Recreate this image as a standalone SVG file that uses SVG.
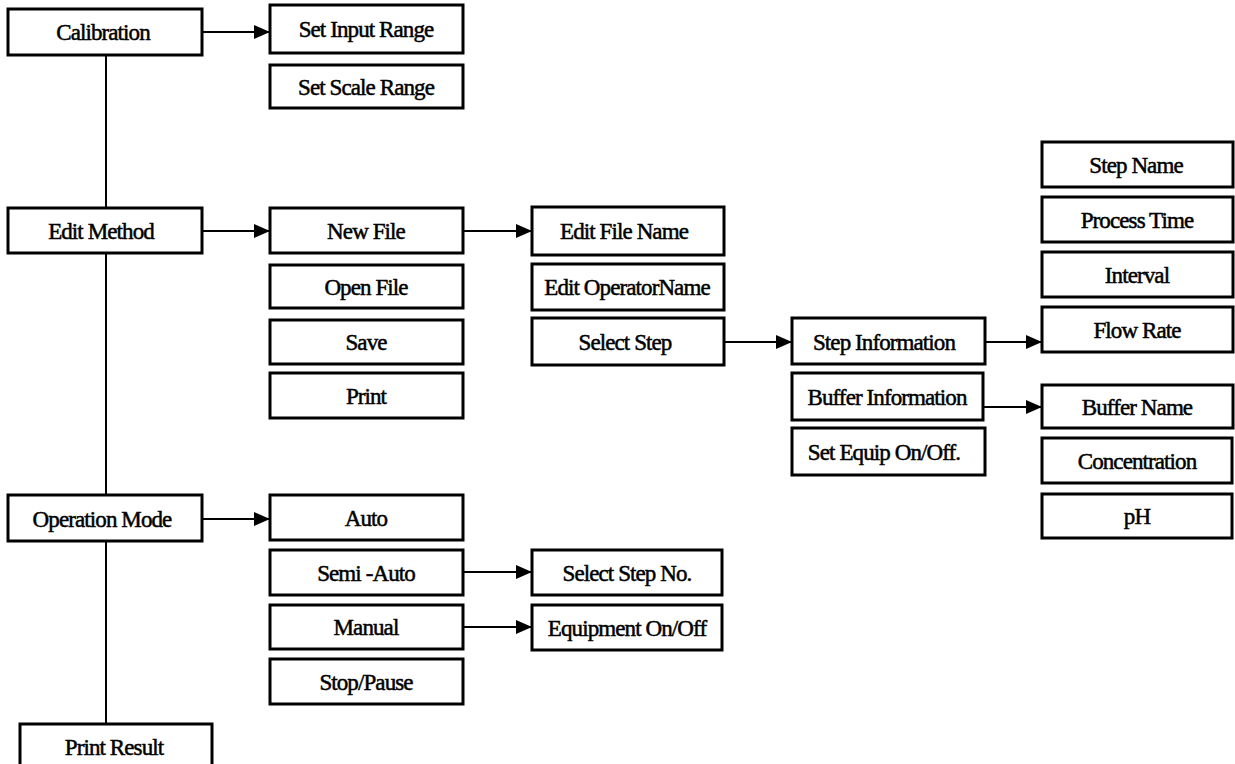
<svg xmlns="http://www.w3.org/2000/svg" width="1235" height="764" viewBox="0 0 1235 764">
<style>
.box{fill:#fff;stroke:#000;stroke-width:3}
.lbl{font-family:"Liberation Serif","Times New Roman",serif;font-size:23px;letter-spacing:-0.9px;fill:#000;stroke:#000;stroke-width:0.5;text-anchor:middle}
.con{stroke:#000;stroke-width:2;fill:none}
</style>
<defs>
<marker id="arr" markerUnits="userSpaceOnUse" markerWidth="17" markerHeight="14" refX="16" refY="7" orient="auto">
<path d="M0,0 L16,7 L0,14 Z" fill="#000"/>
</marker>
</defs>
<rect width="1235" height="764" fill="#fff"/>
<g id="connectors">
<line class="con" x1="106" y1="55" x2="106" y2="208"/>
<line class="con" x1="106" y1="253" x2="106" y2="495"/>
<line class="con" x1="106" y1="541" x2="106" y2="724"/>
<line class="con" x1="202" y1="32" x2="270" y2="32" marker-end="url(#arr)"/>
<line class="con" x1="202" y1="231" x2="270" y2="231" marker-end="url(#arr)"/>
<line class="con" x1="463" y1="231" x2="532" y2="231" marker-end="url(#arr)"/>
<line class="con" x1="724" y1="342" x2="792" y2="342" marker-end="url(#arr)"/>
<line class="con" x1="985" y1="342" x2="1042" y2="342" marker-end="url(#arr)"/>
<line class="con" x1="983" y1="407" x2="1042" y2="407" marker-end="url(#arr)"/>
<line class="con" x1="202" y1="519" x2="270" y2="519" marker-end="url(#arr)"/>
<line class="con" x1="463" y1="572" x2="532" y2="572" marker-end="url(#arr)"/>
<line class="con" x1="463" y1="627" x2="532" y2="627" marker-end="url(#arr)"/>
</g>
<g id="calibration"><rect class="box" x="8" y="9" width="194" height="46"/><text class="lbl" x="103" y="40">Calibration</text></g>
<g id="set-input-range"><rect class="box" x="270" y="5" width="193" height="48"/><text class="lbl" x="366" y="37">Set Input Range</text></g>
<g id="set-scale-range"><rect class="box" x="270" y="65" width="193" height="43"/><text class="lbl" x="366" y="95">Set Scale Range</text></g>
<g id="edit-method"><rect class="box" x="8" y="208" width="194" height="45"/><text class="lbl" x="101" y="239">Edit Method</text></g>
<g id="new-file"><rect class="box" x="270" y="208" width="193" height="45"/><text class="lbl" x="366" y="239">New File</text></g>
<g id="open-file"><rect class="box" x="270" y="265" width="193" height="43"/><text class="lbl" x="366" y="295">Open File</text></g>
<g id="save"><rect class="box" x="270" y="320" width="193" height="44"/><text class="lbl" x="366" y="350">Save</text></g>
<g id="print"><rect class="box" x="270" y="373" width="193" height="45"/><text class="lbl" x="366" y="404">Print</text></g>
<g id="edit-file-name"><rect class="box" x="532" y="207" width="192" height="48"/><text class="lbl" x="624" y="239">Edit File Name</text></g>
<g id="edit-operator-name"><rect class="box" x="532" y="264" width="192" height="46"/><text class="lbl" x="627" y="295">Edit OperatorName</text></g>
<g id="select-step"><rect class="box" x="532" y="318" width="192" height="47"/><text class="lbl" x="625" y="350">Select Step</text></g>
<g id="step-information"><rect class="box" x="792" y="318" width="193" height="46"/><text class="lbl" x="884" y="350">Step Information</text></g>
<g id="buffer-information"><rect class="box" x="792" y="373" width="191" height="47"/><text class="lbl" x="887" y="405">Buffer Information</text></g>
<g id="set-equip"><rect class="box" x="792" y="428" width="193" height="47"/><text class="lbl" x="884" y="460">Set Equip On/Off.</text></g>
<g id="step-name"><rect class="box" x="1042" y="142" width="191" height="45"/><text class="lbl" x="1136" y="173">Step Name</text></g>
<g id="process-time"><rect class="box" x="1042" y="197" width="191" height="45"/><text class="lbl" x="1137" y="228">Process Time</text></g>
<g id="interval"><rect class="box" x="1042" y="252" width="191" height="45"/><text class="lbl" x="1137" y="283">Interval</text></g>
<g id="flow-rate"><rect class="box" x="1042" y="307" width="191" height="45"/><text class="lbl" x="1137" y="338">Flow Rate</text></g>
<g id="buffer-name"><rect class="box" x="1042" y="385" width="191" height="43"/><text class="lbl" x="1137" y="415">Buffer Name</text></g>
<g id="concentration"><rect class="box" x="1042" y="438" width="190" height="45"/><text class="lbl" x="1137" y="469">Concentration</text></g>
<g id="ph"><rect class="box" x="1042" y="494" width="190" height="44"/><text class="lbl" x="1137" y="524">pH</text></g>
<g id="operation-mode"><rect class="box" x="8" y="495" width="194" height="46"/><text class="lbl" x="102" y="527">Operation Mode</text></g>
<g id="auto"><rect class="box" x="270" y="495" width="193" height="45"/><text class="lbl" x="366" y="526">Auto</text></g>
<g id="semi-auto"><rect class="box" x="270" y="550" width="193" height="45"/><text class="lbl" x="366" y="581">Semi -Auto</text></g>
<g id="manual"><rect class="box" x="270" y="605" width="193" height="44"/><text class="lbl" x="366" y="635">Manual</text></g>
<g id="stop-pause"><rect class="box" x="270" y="659" width="193" height="45"/><text class="lbl" x="366" y="690">Stop/Pause</text></g>
<g id="select-step-no"><rect class="box" x="532" y="550" width="190" height="45"/><text class="lbl" x="627" y="581">Select Step No.</text></g>
<g id="equipment-on-off"><rect class="box" x="532" y="605" width="190" height="45"/><text class="lbl" x="627" y="636">Equipment On/Off</text></g>
<g id="print-result"><rect class="box" x="20" y="724" width="192" height="50"/><text class="lbl" x="114" y="755">Print Result</text></g>
</svg>
